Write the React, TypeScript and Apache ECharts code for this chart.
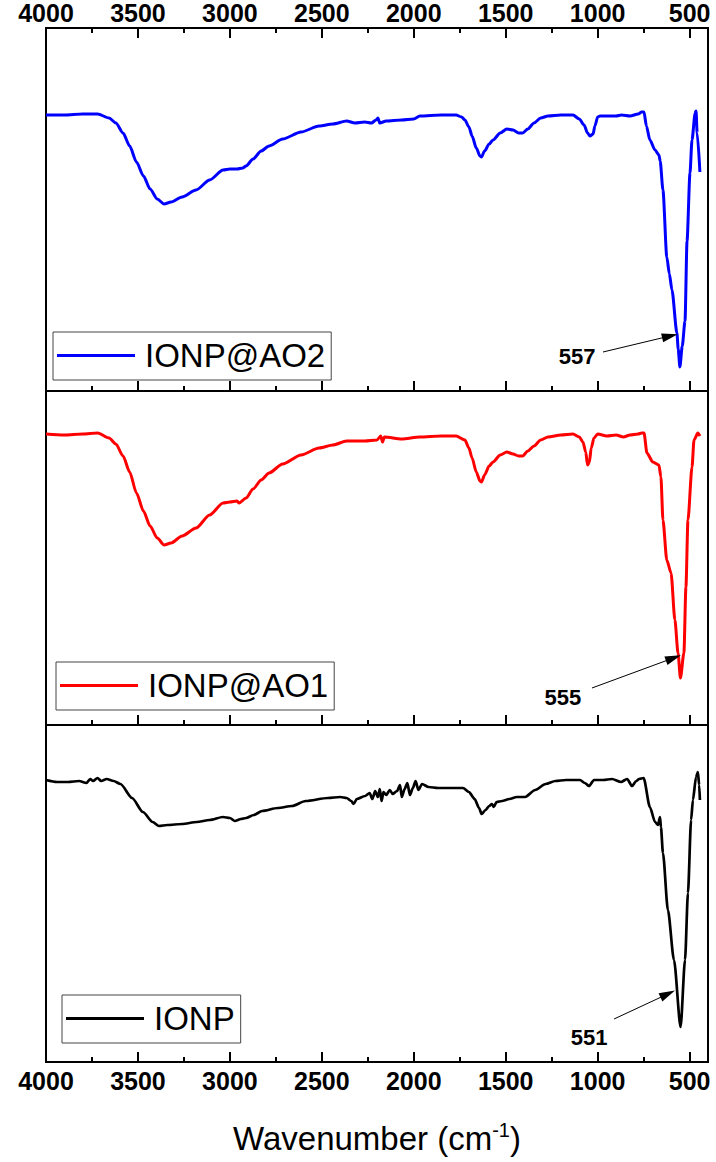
import { useEffect, useRef } from 'react';
import * as echarts from 'echarts';

// ---- axis range (wavenumber, cm-1) ----
const WN_MAX = 4000;
const WN_MIN = 400;
const MAJOR_STEP = 500;
const MINOR_STEP = 250;

// ---- series names ----
const SERIES_NAMES = ['IONP@AO2', 'IONP@AO1', 'IONP'];
const SERIES_COLORS = ['#0000ff', '#ff0000', '#000000'];

// ---- transmittance (a.u.) range of each panel ----
const PANEL_T_MAX = [363, 334, 337];

// ---- spectra: [wavenumber, transmittance a.u.] ----
const ionpAO2: [number, number][] = [
  [4000, 276], [3900, 276], [3800, 277], [3719, 277], [3657, 273], [3620, 268], [3581, 258],
  [3545, 245], [3508, 229], [3470, 215], [3434, 202], [3395, 192], [3358, 187], [3320, 189],
  [3260, 194], [3184, 201], [3110, 211], [3037, 221], [3000, 222], [2961, 222], [2930, 223],
  [2912, 225], [2874, 232], [2830, 240], [2787, 245], [2713, 252], [2613, 259], [2515, 265],
  [2440, 267], [2365, 270], [2320, 268], [2267, 269], [2230, 268], [2205, 271], [2195, 273],
  [2185, 268], [2150, 270], [2066, 271], [2000, 272], [1967, 275], [1850, 276], [1770, 276],
  [1740, 274], [1722, 271], [1700, 264], [1683, 255], [1660, 243], [1640, 235], [1632, 234],
  [1615, 240], [1590, 247], [1569, 251], [1530, 258], [1494, 262], [1460, 261], [1430, 258],
  [1408, 258], [1380, 262], [1346, 268], [1310, 273], [1270, 275], [1200, 276], [1134, 276],
  [1100, 272], [1074, 266], [1055, 258], [1042, 255], [1025, 257], [1015, 265], [1000, 274],
  [987, 275], [900, 275], [870, 276], [824, 275], [780, 277], [760, 279], [748, 279],
  [735, 265], [716, 251], [688, 241], [667, 236], [660, 230], [645, 201], [624, 134],
  [610, 117], [596, 101], [569, 58], [562, 42], [553, 24], [540, 45], [525, 70], [514, 150],
  [498, 218], [487, 251], [470, 278], [465, 280], [459, 258], [444, 219],
];

const ionpAO1: [number, number][] = [
  [4000, 291], [3900, 290], [3800, 291], [3719, 292], [3657, 287], [3620, 281], [3581, 269],
  [3545, 253], [3508, 232], [3470, 214], [3434, 199], [3395, 187], [3358, 180], [3320, 182],
  [3260, 189], [3184, 197], [3110, 210], [3037, 222], [3000, 223], [2961, 224], [2950, 222],
  [2912, 227], [2874, 236], [2830, 245], [2787, 252], [2713, 261], [2613, 270], [2515, 277],
  [2440, 280], [2365, 284], [2267, 284], [2200, 285], [2180, 289], [2170, 283], [2160, 288],
  [2066, 286], [1967, 288], [1850, 289], [1770, 289], [1722, 285], [1700, 277], [1683, 267],
  [1660, 253], [1640, 244], [1632, 243], [1615, 250], [1590, 259], [1569, 263], [1530, 270],
  [1494, 273], [1460, 271], [1430, 269], [1408, 269], [1380, 274], [1346, 279], [1310, 285],
  [1270, 288], [1200, 290], [1134, 291], [1100, 288], [1080, 283], [1065, 273], [1055, 260],
  [1045, 263], [1035, 277], [1020, 287], [1000, 291], [950, 289], [900, 290], [860, 288],
  [824, 290], [780, 291], [760, 292], [748, 292], [732, 272], [700, 263], [667, 260],
  [656, 248], [645, 205], [624, 165], [601, 152], [580, 105], [563, 72], [550, 47],
  [531, 72], [520, 138], [509, 205], [487, 258], [476, 285], [455, 292], [444, 289],
];

const ionp: [number, number][] = [
  [4000, 282], [3940, 280], [3880, 280], [3820, 281], [3780, 279], [3760, 283], [3744, 281],
  [3720, 284], [3700, 281], [3670, 283], [3632, 281], [3595, 278], [3532, 264], [3473, 250],
  [3420, 240], [3386, 236], [3340, 237], [3260, 238], [3180, 240], [3110, 242], [3038, 245],
  [3000, 244], [2973, 241], [2940, 243], [2912, 244], [2870, 247], [2825, 251], [2740, 254],
  [2662, 256], [2588, 261], [2467, 264], [2400, 265], [2365, 264], [2340, 261], [2327, 258],
  [2310, 263], [2265, 266], [2240, 269], [2225, 263], [2210, 271], [2195, 265], [2185, 273],
  [2175, 261], [2165, 270], [2150, 267], [2130, 272], [2115, 268], [2091, 271], [2075, 277],
  [2065, 265], [2050, 273], [2035, 279], [2021, 267], [2005, 274], [1990, 281], [1975, 272],
  [1955, 278], [1920, 275], [1868, 274], [1800, 274], [1732, 274], [1700, 270], [1669, 263],
  [1645, 254], [1631, 248], [1610, 252], [1590, 256], [1575, 258], [1565, 255], [1550, 260],
  [1520, 261], [1480, 263], [1440, 265], [1395, 265], [1340, 272], [1283, 278], [1230, 281],
  [1172, 282], [1096, 282], [1070, 279], [1047, 276], [1020, 282], [970, 282], [922, 283],
  [873, 280], [840, 283], [813, 276], [790, 281], [775, 283], [750, 284], [716, 255],
  [688, 240], [672, 237], [661, 245], [656, 235], [645, 209], [618, 152], [585, 102],
  [549, 35], [525, 102], [509, 169], [492, 242], [482, 262], [465, 285], [455, 290],
  [448, 277], [444, 262],
];

// ---- peak annotations: label, label position, arrow tail, arrow tip ([wavenumber, T]) ----
const PEAK_LABELS = ['557', '555', '551'];
const PEAK_LABEL_AT: [number, number][] = [[1112, 35], [1189, 28], [1047, 25]];
const ARROW_FROM: [number, number][] = [[971, 39], [1031, 37], [911, 43]];
const ARROW_TO: [number, number][] = [[607, 55], [588, 67], [619, 68]];

const FONT = "'Liberation Sans', Arial, Helvetica, sans-serif";

const GRIDS = [
  { left: 46, top: 28, width: 662, height: 363 },
  { left: 46, top: 391, width: 662, height: 334 },
  { left: 46, top: 725, width: 662, height: 337 },
];

function tickLabel(v: number) {
  return v === -WN_MIN ? '' : String(-v);
}

function makeXAxis(gridIndex: number, position: 'top' | 'bottom', major: boolean, labels: boolean, extra: any = {}) {
  return {
    type: 'value',
    gridIndex,
    position,
    min: -WN_MAX,
    max: -WN_MIN,
    interval: major ? MAJOR_STEP : MINOR_STEP,
    axisLine: { show: false, onZero: false },
    axisTick: { show: true, inside: true, length: major ? 10 : 5, lineStyle: { color: '#000', width: 2 } },
    axisLabel: labels
      ? {
          show: true,
          formatter: tickLabel,
          showMaxLabel: false,
          fontSize: 25,
          fontWeight: 'bold',
          fontFamily: FONT,
          color: '#000',
          margin: position === 'top' ? 3 : 6,
        }
      : { show: false },
    splitLine: { show: false },
    ...extra,
  };
}

export default function App() {
  const ref = useRef<HTMLDivElement>(null);

  useEffect(() => {
    if (!ref.current) return;
    const chart = echarts.init(ref.current, undefined, { renderer: 'svg' });

    const xAxes = [
      makeXAxis(0, 'top', true, true), // 0
      makeXAxis(0, 'top', false, false), // 1
      makeXAxis(0, 'bottom', true, false), // 2
      makeXAxis(0, 'bottom', false, false), // 3
      makeXAxis(1, 'bottom', true, false), // 4
      makeXAxis(1, 'bottom', false, false), // 5
      makeXAxis(2, 'bottom', true, true, {
        name: '{a|Wavenumber (cm}{s|-1}{a|)}',
        nameLocation: 'middle',
        nameGap: 58,
        nameTextStyle: {
          rich: {
            a: { fontSize: 33, fontFamily: FONT, color: '#000', lineHeight: 37 },
            s: { fontSize: 20, fontFamily: FONT, color: '#000', verticalAlign: 'top', lineHeight: 20 },
          },
        },
      }), // 6
      makeXAxis(2, 'bottom', false, false), // 7
    ];

    const seriesAxis = [0, 4, 6];
    const data = [ionpAO2, ionpAO1, ionp];

    const series = data.map((d, i) => ({
      name: SERIES_NAMES[i],
      type: 'line',
      xAxisIndex: seriesAxis[i],
      yAxisIndex: i,
      data: d.map(([w, t]) => [-w, t]),
      symbol: 'none',
      smooth: 0.25,
      smoothMonotone: 'x',
      lineStyle: { color: SERIES_COLORS[i], width: i === 2 ? 2.7 : 3 },
      itemStyle: { color: SERIES_COLORS[i] },
      silent: true,
      markLine: {
        silent: true,
        symbol: ['none', 'triangle'],
        symbolSize: [9, 16],
        lineStyle: { color: '#000', width: 1, type: 'solid' },
        itemStyle: { color: '#000' },
        label: { show: false },
        emphasis: { disabled: true },
        data: [
          [
            { coord: [-ARROW_FROM[i][0], ARROW_FROM[i][1]] },
            { coord: [-ARROW_TO[i][0], ARROW_TO[i][1]] },
          ],
        ],
      },
      markPoint: {
        silent: true,
        symbol: 'rect',
        symbolSize: 1,
        itemStyle: { color: 'rgba(0,0,0,0)' },
        label: {
          show: true,
          position: 'inside',
          formatter: PEAK_LABELS[i],
          fontSize: 22,
          fontWeight: 'bold',
          fontFamily: FONT,
          color: '#000',
        },
        data: [{ coord: [-PEAK_LABEL_AT[i][0], PEAK_LABEL_AT[i][1]] }],
      },
    }));

    const legendPos = [
      { left: 53, top: 332 },
      { left: 56, top: 662 },
      { left: 62, top: 995 },
    ];

    chart.setOption({
      animation: false,
      backgroundColor: '#ffffff',
      grid: GRIDS.map((g) => ({ ...g, show: true, borderColor: '#000', borderWidth: 2, backgroundColor: 'transparent', containLabel: false })),
      xAxis: xAxes,
      yAxis: GRIDS.map((_, i) => ({
        type: 'value',
        gridIndex: i,
        min: 0,
        max: PANEL_T_MAX[i],
        show: false,
        splitLine: { show: false },
      })),
      legend: SERIES_NAMES.map((n, i) => ({
        data: [{ name: n, icon: 'rect' }],
        ...legendPos[i],
        orient: 'horizontal',
        selectedMode: false,
        borderColor: '#444',
        borderWidth: 1,
        borderRadius: 0,
        padding: [7, 6, 8, 4],
        itemWidth: 78,
        itemHeight: 3,
        itemStyle: { color: SERIES_COLORS[i], borderWidth: 0 },
        textStyle: { fontSize: 33, fontFamily: FONT, color: '#000', padding: [0, 0, 0, 5] },
      })),
      series,
    });

    return () => chart.dispose();
  }, []);

  return (
    <div style={{ position: 'absolute', left: 0, top: 0, width: 716, height: 1162, background: '#fff' }}>
      <div ref={ref} style={{ width: 716, height: 1162 }} />
    </div>
  );
}
